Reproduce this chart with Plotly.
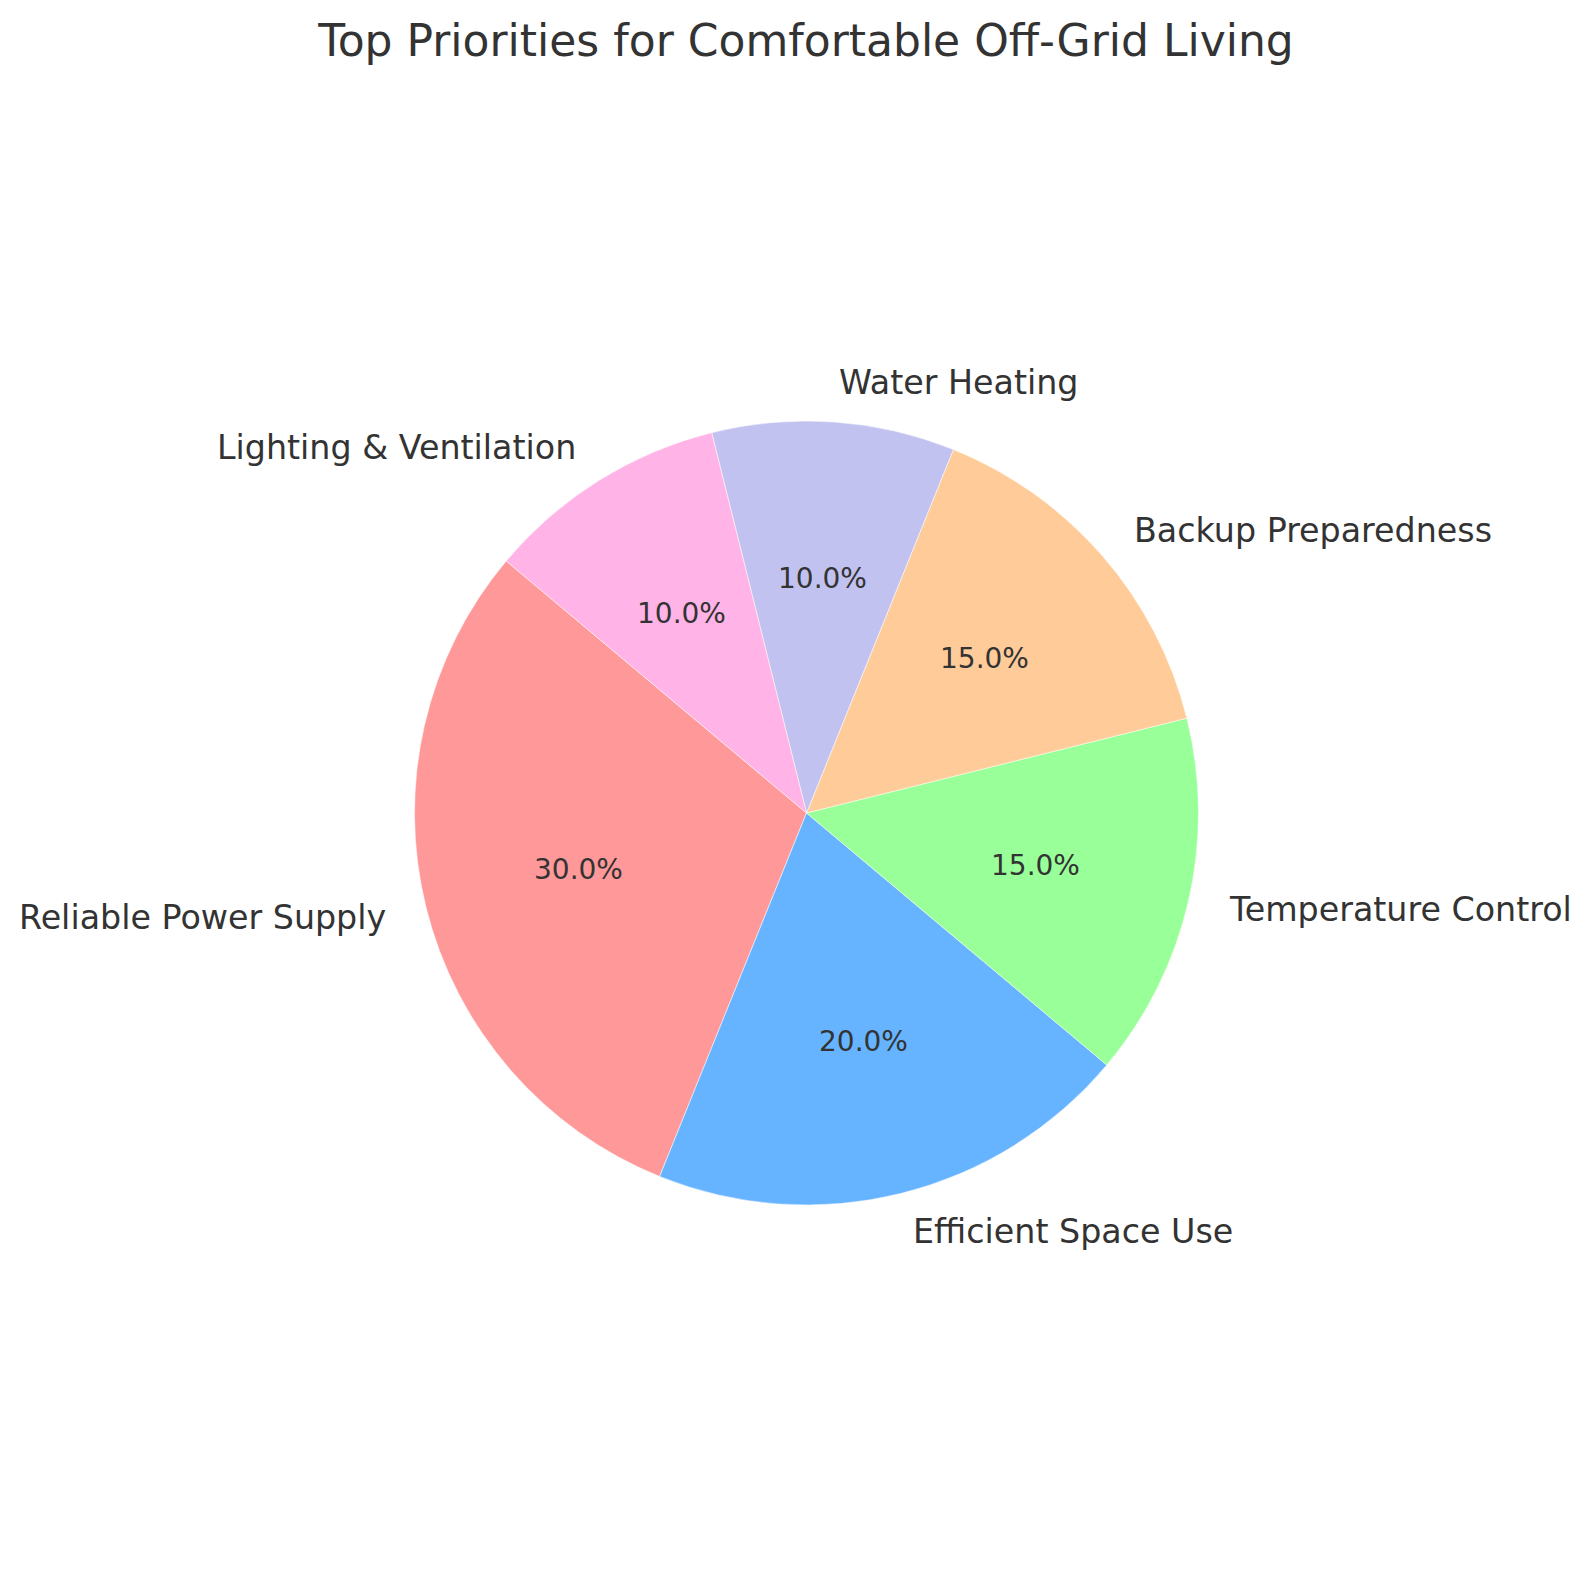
import numpy as np
import plotly.graph_objects as go

categories = ["Reliable Power Supply", "Efficient Space Use", "Temperature Control",
              "Backup Preparedness", "Water Heating", "Lighting & Ventilation"]
values = [30, 20, 15, 15, 10, 10]
colors = ["#ff9999", "#66b3ff", "#99ff99", "#ffcc99", "#c2c2f0", "#ffb3e6"]
title_text = "Top Priorities for Comfortable Off-Grid Living"

W, H = 1590, 1577
OFF = 8  # default page body margin shifts the figure
cx_px, cy_px, r_px = 806.5 - OFF, 813.0 - OFF, 392.0
start_angle = 140.0  # degrees, counterclockwise from +x (first slice starts here)

cx = cx_px / W
cy = 1 - cy_px / H
rx = r_px / W
ry = r_px / H

total = float(sum(values))
# plotly (counterclockwise): rotation marks the counterclockwise edge of the first slice,
# measured clockwise from 12 o'clock
first_end = start_angle + 360.0 * values[0] / total
rotation = ((90.0 - first_end + 180.0) % 360.0) - 180.0

fig = go.Figure()
fig.add_trace(go.Pie(
    labels=categories, values=values, sort=False,
    direction="counterclockwise", rotation=rotation,
    marker=dict(colors=colors, line=dict(color="white", width=0.5)),
    textinfo="none", hoverinfo="label+percent", showlegend=False,
    domain=dict(x=[cx - rx, cx + rx], y=[cy - ry, cy + ry]),
))

annotations = []
cum = 0.0
text_color = "#333333"
for lab, v in zip(categories, values):
    mid = np.deg2rad(start_angle + 360.0 * (cum + v / 2.0) / total)
    cum += v
    c, s = np.cos(mid), np.sin(mid)
    annotations.append(dict(
        x=cx + 1.1 * rx * c, y=cy + 1.1 * ry * s, xref="paper", yref="paper",
        text=lab, showarrow=False, xanchor="left" if c > 0 else "right", yanchor="middle",
        font=dict(family="DejaVu Sans", size=33.3, color=text_color)))
    annotations.append(dict(
        x=cx + 0.6 * rx * c, y=cy + 0.6 * ry * s, xref="paper", yref="paper",
        text=f"{100.0 * v / total:.1f}%", showarrow=False, xanchor="center", yanchor="middle",
        font=dict(family="DejaVu Sans", size=28, color=text_color)))

fig.update_layout(
    width=W, height=H,
    margin=dict(l=0, r=0, t=0, b=0),
    paper_bgcolor="white", plot_bgcolor="white",
    title=dict(text=title_text, x=(806 - OFF) / W, xanchor="center", y=1 - 33 / H, yanchor="middle",
               yref="container", font=dict(family="DejaVu Sans", size=44, color=text_color)),
    annotations=annotations,
)

fig.write_html("out.html")
